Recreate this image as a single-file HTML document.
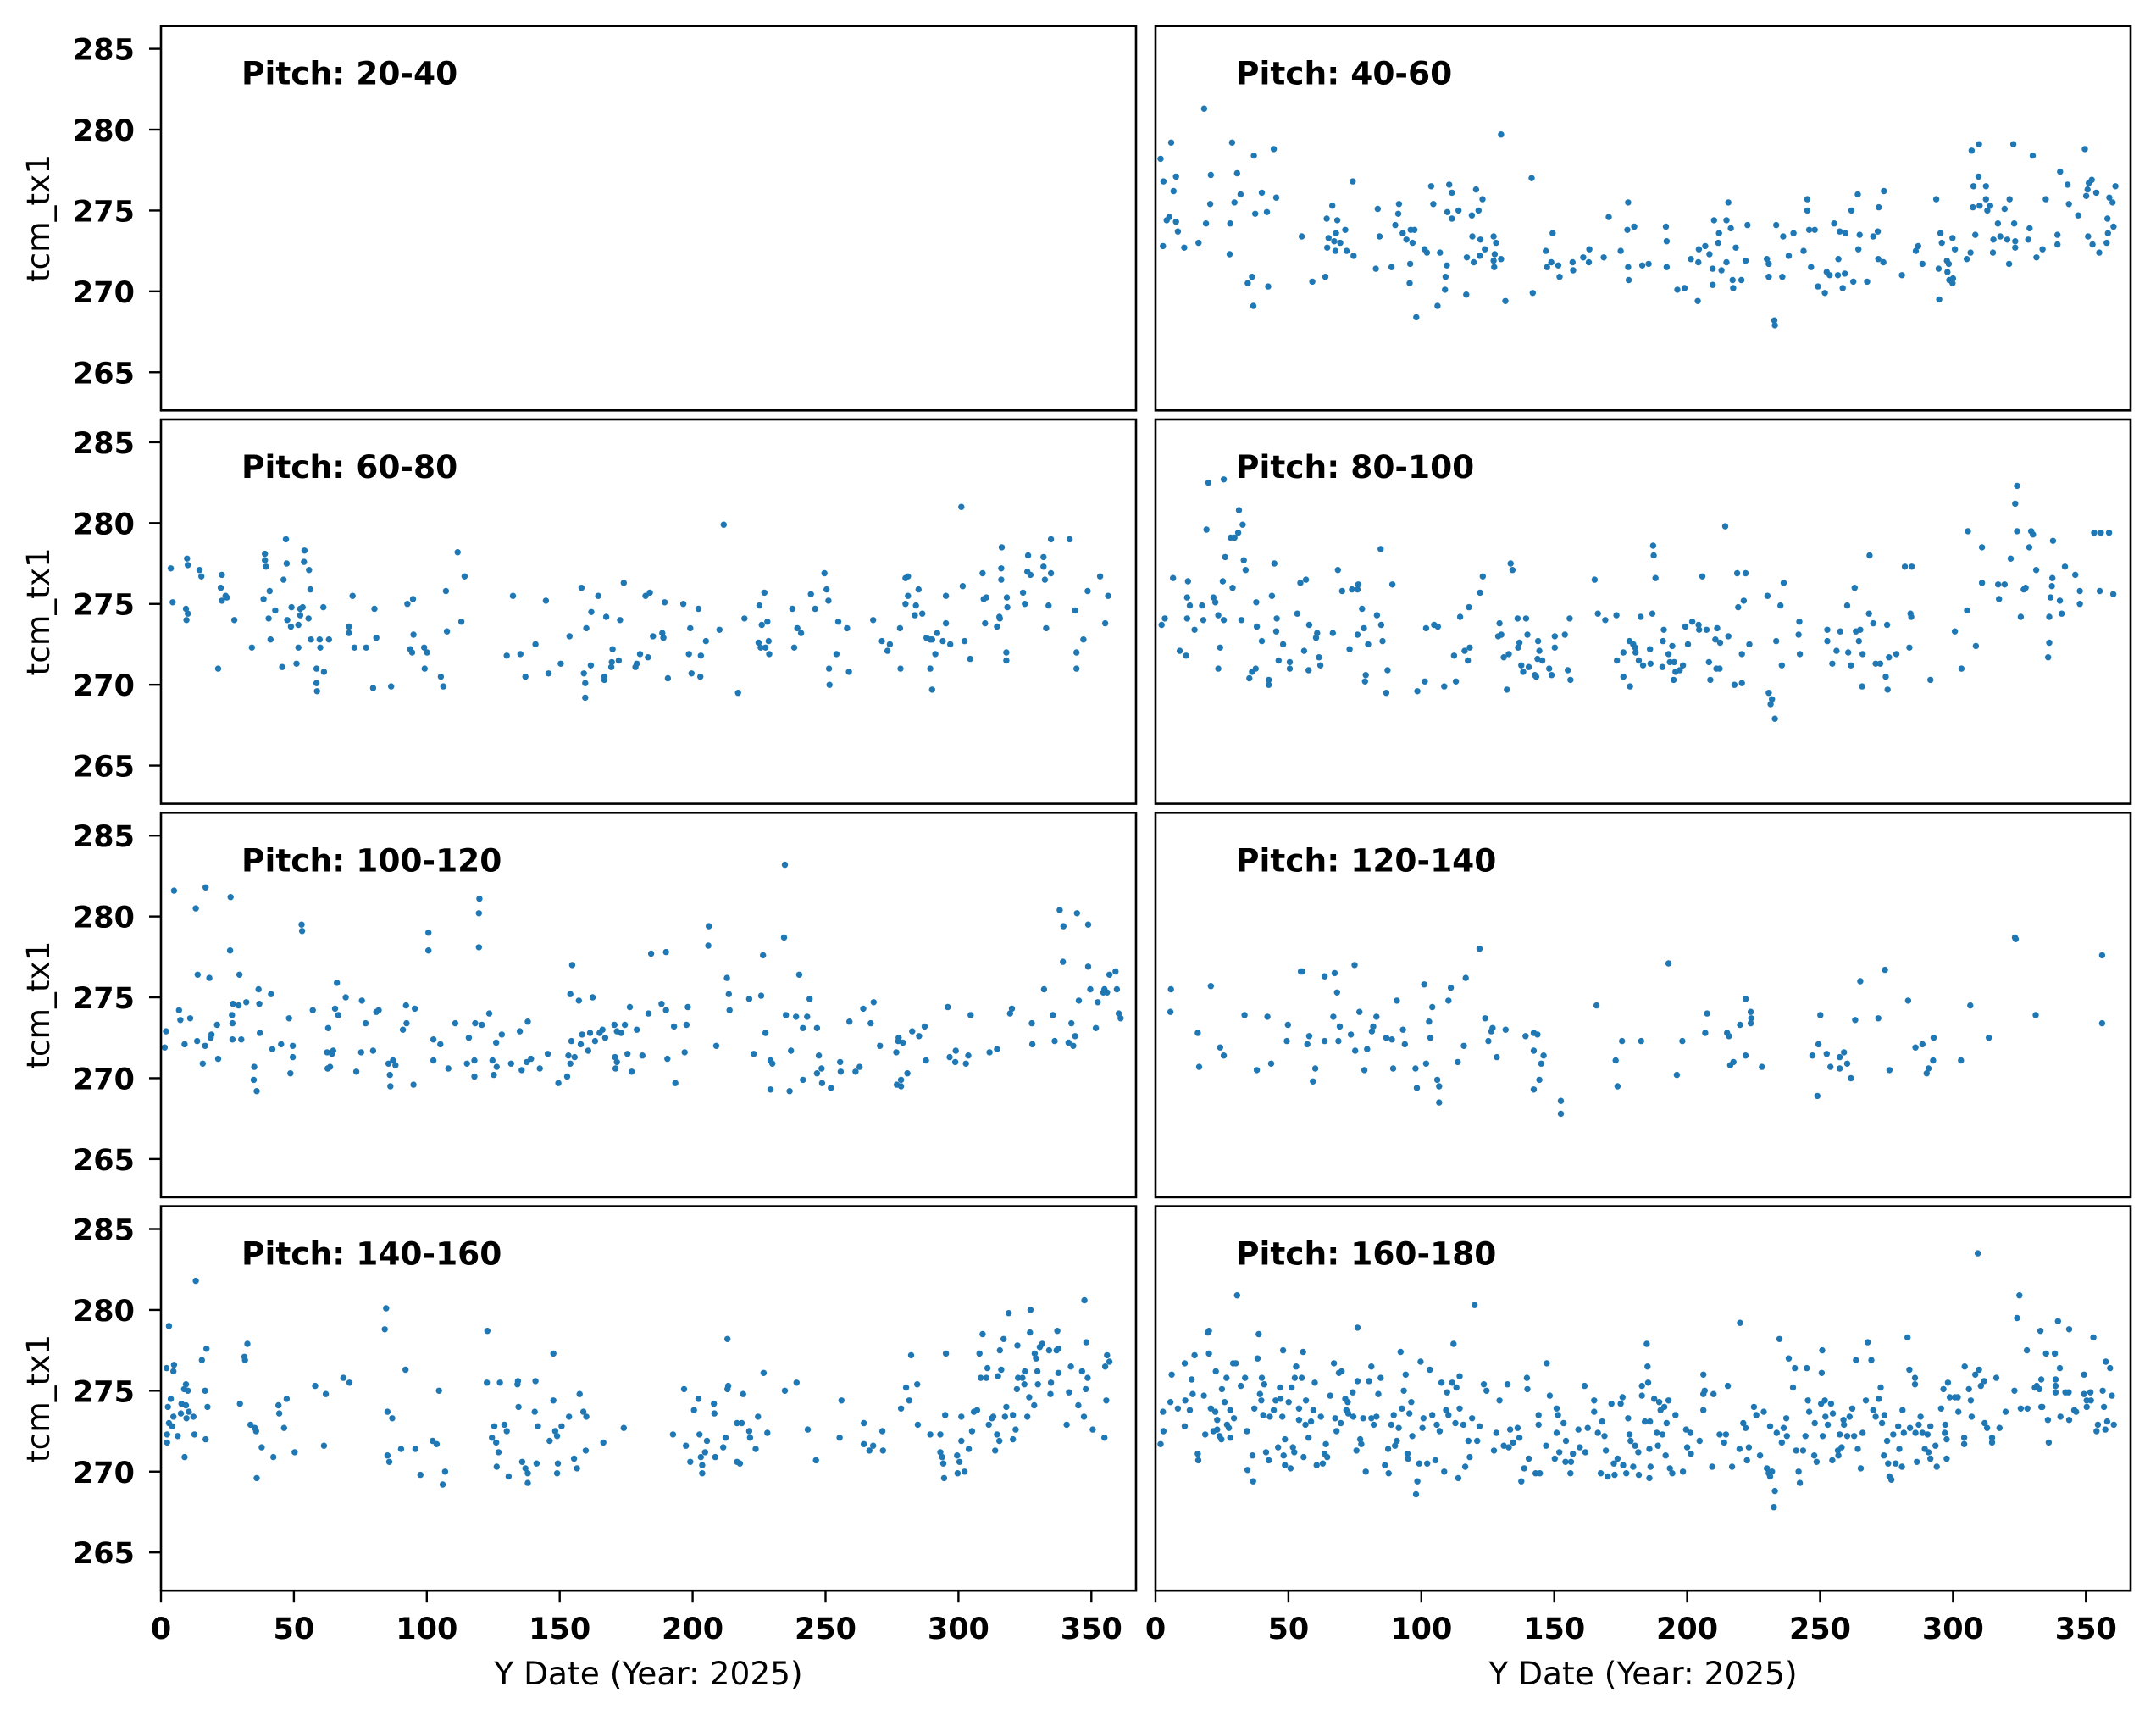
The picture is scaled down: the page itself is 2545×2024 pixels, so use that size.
<!DOCTYPE html>
<html><head><meta charset="utf-8"><title>tcm_tx1 by pitch</title>
<style>
html,body{margin:0;padding:0;background:#fff;}
svg{display:block;}
text{font-family:"DejaVu Sans","Liberation Sans",sans-serif;fill:#000;}
</style></head>
<body>
<svg id="fig" width="2545" height="2024" viewBox="0 0 2545 2024" xmlns="http://www.w3.org/2000/svg"></svg>
<script>
// ---- axis config ----
const xTicks = [0,50,100,150,200,250,300,350];
const yTicks = [265,270,275,280,285];
const xLim = [0,366.8];
const yLim = [262.64,286.41];
const panelTitles = ["Pitch: 20-40","Pitch: 40-60","Pitch: 60-80","Pitch: 80-100","Pitch: 100-120","Pitch: 120-140","Pitch: 140-160","Pitch: 160-180"];

// ---- data: [day, tcm_tx1] ----
const p20 = [];
const p40 = [[1.9,278.2],[3,276.8],[2.8,272.8],[5.9,279.2],[7.7,277.1],[6.8,276.2],[5.2,274.6],[4.2,274.4],[7.7,274.3],[8.4,273.7],[10.8,272.7],[16.2,273],[18.3,281.3],[20.8,277.2],[20.6,275.4],[19,274.2],[28.8,279.2],[30.7,277.3],[29.7,275.5],[32,276],[28.1,274.2],[27.9,272.3],[37,278.4],[37.5,274.8],[40,276.1],[41.9,274.9],[44.5,278.8],[45.4,275.8],[34.7,270.5],[36.3,270.9],[36.8,269.1],[42.4,270.3],[55,273.4],[59,270.6],[63.9,270.9],[64.4,274.5],[66.5,275.3],[68.4,274.4],[65.1,273.3],[67.2,273.1],[67.9,273.6],[69.5,273],[64.6,272.7],[67.7,272.5],[71.4,273.8],[71.9,272.5],[74.5,272.2],[74.2,276.8],[83.6,275.1],[84.3,273.4],[82.9,271.4],[88.8,271.5],[91.6,275.4],[91.3,274.8],[90.2,274.1],[93,273.6],[94.4,273.2],[96.7,273],[96,273.8],[97.4,273.8],[95.8,271.7],[95.6,270.5],[98.1,268.4],[101.2,272.6],[102.1,272.4],[103.7,276.5],[104.5,275.4],[107,272.4],[109.6,271.6],[109.1,270.9],[108.9,270.1],[106.1,269.1],[110.5,276.6],[111.5,276.1],[109.8,274.9],[111.5,274.5],[114,275],[120.6,276.3],[123,275.7],[121.5,275],[119,274.7],[119.2,273.4],[122.2,273.2],[123.9,272.6],[117.1,272.1],[119.7,271.8],[122,272.2],[116.9,269.8],[127.2,273.4],[128.1,273],[127.6,272.3],[127.2,271.9],[130,272],[127.4,271.5],[130,279.7],[131.6,269.4],[141.5,277],[141.9,269.9],[146.8,272.5],[147.3,271.5],[148.9,271.8],[149.4,273.6],[152,270.9],[151.5,271.6],[156.9,271.8],[157.1,271.3],[160.9,272.1],[163,271.8],[163.2,272.6],[168.6,272.1],[170.5,274.6],[175,272.5],[177.8,275.5],[177.5,273.8],[180.1,274],[177.8,271.5],[178,270.7],[183.1,271.6],[185.5,271.7],[192,274],[192.3,273.1],[192.3,271.5],[196.3,270.1],[199,270.2],[201.4,272],[204,269.4],[204.2,271.8],[204.4,272.6],[206.8,272.8],[208.4,272.3],[210.1,274.4],[212,273.6],[211.7,273],[209.6,271.4],[209.6,270.4],[212.9,271.3],[214.8,274.4],[215.5,275.5],[216.4,273.9],[214.8,271.8],[218.3,272.7],[217.3,270.2],[217.1,270.7],[220.4,270.7],[222,271.9],[222.7,274.1],[230,272],[230.7,271.7],[230.7,270.9],[232.8,268.2],[233,267.9],[233.5,274.1],[236.1,273.4],[235.8,270.9],[238.2,272.2],[240,273.6],[243.8,272.5],[245.2,275.7],[245.2,275],[245.9,273.8],[248,273.8],[246.6,271.5],[249.2,270.3],[251.8,269.9],[252.5,271.2],[253.6,271],[255.3,274.2],[256.9,272],[256.7,271],[257.4,273.7],[259.5,273.6],[259.3,271.1],[258.5,270.2],[261.8,275],[262.5,270.6],[264.2,276],[264.9,273.5],[264.4,272.6],[267.7,270.6],[270,273.4],[271.7,273.7],[272.1,275.2],[274,276.2],[271.9,272],[273.8,271.8],[280.8,271],[286,272.5],[286.9,272.8],[288.5,271.7],[293.7,275.7],[295.3,273.6],[295.8,273],[294.6,271.4],[294.8,269.5],[297.7,271.9],[298.4,271.7],[297.9,271.2],[298.6,270.7],[300,270.8],[299.8,270.5],[299.8,273.3],[300.7,272.6],[305.2,272],[306.6,272.4],[307,278.7],[309.8,279.1],[309.6,277.1],[307.7,276.5],[312.4,276.5],[307.5,275.2],[310,275.3],[312.4,275.7],[314,275.3],[312.9,275],[308.4,273.5],[315,272.4],[316.9,274.2],[317.8,273.4],[315.2,273.2],[319.4,275.1],[320.4,273.2],[321.1,271.7],[321.3,275.7],[322.7,279.1],[323,274.2],[323.4,273.1],[323.4,272.7],[328.8,273.9],[328.3,273.2],[330,278.4],[331.4,272.1],[333.7,272.6],[334.9,275.7],[339.3,273.5],[339.3,272.9],[340.3,277.4],[343.1,276.6],[343.6,275.4],[347.1,274.7],[349.6,278.8],[350.1,275.9],[350.6,276.3],[351.1,276.7],[352.2,276.9],[353.9,276.1],[350.8,273.4],[352.5,272.9],[355,272.4],[358.1,274.5],[358.3,273.6],[357.8,273],[358.8,275.8],[360,275.5],[360.4,274],[361.1,276.5]];
const p60 = [[3.7,277.2],[4.4,275.1],[9.8,277.8],[10.1,277.4],[9.4,274.7],[10.1,274.4],[9.6,274],[14.5,277.1],[15.2,276.7],[22.9,276.8],[22.5,276],[24.3,275.5],[24.8,275.4],[22.9,275.2],[27.6,274],[21.5,271],[34.2,272.3],[39.1,278.1],[39.1,277.7],[39.5,277.3],[47,279],[47.3,277.5],[54,278.3],[53.8,277.6],[55.7,277.1],[46.1,276.5],[40.9,275.8],[38.6,275.3],[56.2,275.9],[43,274.6],[49.1,274.8],[52.4,274.7],[53.3,274.8],[61.1,274.8],[40.5,274.1],[47.5,274],[52.4,274.3],[55.5,274.1],[48.9,273.6],[51.7,273.7],[41.2,272.8],[51.7,272.3],[56.4,272.8],[59.7,272.8],[63.2,272.8],[59.9,272.3],[45.6,271.1],[51,271.3],[58.5,271],[61.3,270.8],[58.5,270.1],[58.7,269.6],[72.1,275.5],[70.7,273.6],[70.7,273.2],[72.8,272.3],[77.2,272.3],[80.3,274.7],[81,272.9],[79.8,269.8],[86.6,269.9],[92.7,275],[94.8,275.3],[95,273.1],[93.8,272.2],[94.5,272],[99,272.3],[100.1,272],[99.2,271],[105.3,270.5],[106.2,269.9],[107.2,275.8],[107.6,273.3],[111.6,278.2],[114.2,276.7],[113,273.9],[130.1,271.8],[132.4,275.5],[135.2,271.9],[137.1,270.5],[140.9,272.5],[144.8,275.2],[145.8,270.7],[150.4,271.3],[153.7,273],[158.2,276],[160,273.5],[161.9,274.5],[161.7,271.2],[159.1,270.7],[159.6,270.1],[159.6,269.2],[164.5,275.5],[167.5,274.2],[166.8,270.5],[166.8,270.3],[169.9,272.2],[169.6,271.4],[169.4,271.1],[172.2,271.5],[172.7,274],[174.1,276.3],[178.5,271.1],[179,271.3],[180.2,271.9],[183.2,271.7],[182.3,275.5],[183.9,275.7],[185.1,273],[188.6,273.2],[189,272.9],[189.5,275.1],[190.7,270.4],[196.5,275],[198.6,271.9],[199.1,273.5],[199.6,270.7],[202.2,274.7],[203.1,271.8],[202.9,270.5],[205,272.7],[210.1,273.4],[211.7,279.9],[217.1,269.5],[219.5,274.1],[225.1,274.9],[227,275.7],[226,273.7],[228.1,273.9],[224.8,272.6],[225.6,272.3],[227.4,272.3],[228.6,272.7],[228.8,271.9],[237.5,274.7],[238.2,272.3],[239.4,273.5],[240.8,273.2],[244.5,275.6],[246.1,274.7],[249.6,276.9],[250.4,275.9],[251.1,275.2],[251.3,271],[251.5,270],[254.8,273.9],[254.1,271.9],[258.1,273.5],[258.8,270.8],[267.9,274],[271.2,272.7],[274.2,272.5],[273.3,272.1],[278.2,271],[278,273.5],[280.1,276.6],[281,276.7],[281,275.5],[280.1,275],[285,275.9],[284,274.9],[283.6,274.3],[286.4,274.4],[288,272.9],[289.4,272.8],[290.1,272.8],[292,273.2],[294.1,272.7],[296.9,272.5],[291.3,271.9],[289.4,271],[290.1,269.7],[295.3,275.5],[295.3,273.8],[301.1,281],[301.6,276.1],[302.3,272.7],[304.4,271.6],[309.1,276.9],[309.5,275.3],[310.5,275.4],[310,273.8],[314.5,273.6],[315.4,274.2],[315.6,274.1],[316.3,278.5],[316.1,277.2],[316.1,276.5],[318.2,275.4],[318.4,274.8],[318,272],[318,271.5],[324.3,275.7],[325,275],[326.2,278],[325.9,277],[327.1,276.8],[332,277.9],[332,277.3],[332.5,276.5],[334.8,279],[334.8,276.9],[333.9,274.9],[333,273.5],[341.8,279],[343.9,274.6],[347,272.8],[344.4,272],[344.4,271],[348.6,275.8],[353.3,276.7],[355.2,273.8],[356.3,275.5]];
const p80 = [[2.3,273.7],[3.5,274.1],[6.6,276.6],[9.1,272.1],[11.5,271.8],[11.9,274.1],[11.9,275.4],[12.9,274.9],[12.2,276.4],[14.7,273.4],[17.5,274.9],[18,274],[19.9,282.5],[19.2,279.6],[21.8,275.4],[22.5,275.1],[23.6,274.3],[23.6,271],[24.3,272.3],[25.7,282.7],[26.2,277.9],[25.3,276.4],[25.7,274],[29,276],[28.3,279.1],[29.7,279.1],[31.1,279.4],[31.4,280.8],[32.8,279.9],[33.2,277.7],[33.9,277.1],[32.3,274],[35.3,270.4],[36.3,270.8],[37.7,271],[37.9,275.1],[38.1,273.6],[40,272.7],[42.6,270.3],[42.6,270],[43.8,275.5],[44.7,277.5],[45.6,274.1],[45.4,273.3],[46.3,271.5],[48,272.5],[50.5,271.4],[50.5,271],[53.3,274.4],[54.5,276.3],[56.6,276.5],[55.9,272.1],[57.8,273.7],[57.6,270.9],[60.4,272.9],[60.8,273.2],[61.5,271.7],[62,271.2],[66.7,273.2],[68.6,277.1],[70.2,275.8],[73.9,275.9],[76,275.9],[76.3,276.2],[77.7,274.7],[76,273.1],[78.4,273.5],[73,272.2],[80,272.5],[79.1,270.6],[78.8,270.2],[83.3,274.3],[84.7,278.4],[84.9,273.7],[85.4,272.7],[87.3,270.9],[86.8,269.5],[89.1,276.2],[98.5,269.6],[101.3,270.2],[101.8,273.5],[104.8,273.7],[106.2,273.6],[108.6,269.9],[113,270.2],[112.3,271.8],[116.3,272.1],[118.2,272.3],[117.5,271.5],[114.6,274.2],[117.9,274.8],[122.1,275.7],[123.1,276.7],[128.9,273],[130.1,273.1],[129.4,273.8],[131,271.7],[132.9,271.9],[132.2,269.7],[133.6,277.5],[134.3,277.1],[136.2,274.1],[139.4,274.1],[136.9,272.6],[136.4,272.3],[139.9,273.1],[137.6,271.2],[138.3,270.8],[140.4,271.1],[143.2,270.5],[142.7,270.6],[143.9,272.7],[144.4,272.1],[143.7,271.6],[145.5,271.5],[148.1,271],[149,270.6],[150.2,273],[150.2,272.3],[154,273.1],[155.1,270.9],[156.1,270.3],[155.8,274.1],[165.2,276.5],[166.4,274.4],[169.2,274],[173.4,274.3],[173.6,271.5],[176,272],[176,270.5],[178.5,269.9],[178.3,272.7],[179.7,272.5],[180.4,272.3],[180.6,272],[181.8,271.5],[183.4,271.2],[182.5,274.2],[186,272.2],[186.2,271.3],[186.9,274.4],[187.2,278.6],[187.4,278],[188.1,276.6],[191.2,273.4],[190.9,272.7],[190.7,271.1],[193,271.9],[193.5,271.4],[194.4,272.4],[195.1,271.4],[195.6,270.8],[194.9,270.3],[197.2,270.9],[198.4,271.2],[199.3,273.6],[200.3,272.5],[201.9,273.9],[204.3,273.7],[204.5,273.4],[205.7,276.7],[207.3,273.4],[208.2,271.4],[208.7,270.3],[210.6,272.8],[211.3,273.5],[211,271],[212.2,271],[212.4,272.6],[214.3,279.8],[215.5,273],[217.8,270],[220.6,270.1],[220.6,271.9],[218.8,276.9],[222,276.9],[221.3,275.2],[219.2,274.8],[223.4,272.5],[230.2,275.5],[230.7,269.5],[231.9,269.1],[231.4,268.8],[233,267.9],[233.5,272.7],[235.1,274.9],[236.3,276.3],[235.6,271.2],[242.2,273.9],[241.9,273.1],[242.4,271.9],[252.7,273.4],[252.7,272.7],[254.6,271.3],[256.2,272.1],[257.6,273.3],[260.2,274.9],[260.6,272],[261.6,271.2],[263,276],[263.5,273.3],[265.1,273.4],[264.6,272.7],[266,271.9],[265.8,269.9],[268.6,278],[268.4,274.4],[270,273.8],[270.9,271.3],[272.6,271.3],[274.7,270.5],[275.4,269.7],[275.2,273.7],[275.9,271.7],[278.7,271.9],[281.9,277.3],[284.5,277.3],[284,274.4],[284.3,274.2],[283.6,272.3],[291.5,270.3],[300.7,273.3],[303.2,271],[305.3,274.6],[305.6,279.5],[308.6,272.4],[310.9,278.5],[310.9,276.3],[317,276.2],[317.3,275.3],[319.4,276.2],[321.7,277.8],[323.4,281.2],[324.1,282.3],[324.1,279.5],[325.5,274.2],[326.6,275.9],[327.3,276],[328.7,278.5],[329.4,279.5],[330.1,279.3],[331.3,277.1],[335.8,271.7],[336.2,272.6],[336.2,274.2],[336.7,275.4],[337.2,276.1],[337.4,276.6],[337.6,278.9],[340.2,275.2],[340.9,274.4],[342.1,277.3],[346,276.8],[347.7,275.8],[347.7,275],[353.1,279.4],[355.6,279.4],[358.7,279.4],[355.2,275.8],[360.3,275.6]];
const p100 = [[1.9,272.9],[1.4,271.9],[4.9,281.6],[6.8,274.2],[7.3,273.6],[11,273.7],[8.9,272.1],[13.1,280.5],[13.8,276.4],[13.6,272.3],[16.8,281.8],[18.2,276.2],[16.6,272],[19,272.7],[18.7,272.5],[15.7,270.9],[21.1,273.3],[21.5,271.2],[26.2,281.2],[26,277.9],[27.1,274.6],[26.7,273.9],[26.9,273.4],[26.9,272.4],[29.5,276.4],[29.2,274.5],[30.2,272.4],[32.1,274.7],[36.7,275.5],[37,274.6],[37.2,272.8],[35.1,270.7],[34.9,269.9],[36,269.2],[41.4,275.2],[41.9,271.8],[45.2,272.1],[48.2,273.7],[49.6,272],[49.6,271.3],[48.7,270.3],[52.9,279.5],[53.1,279.1],[57.1,274.2],[62.9,273.1],[62.5,271.6],[64.3,271.5],[64.8,271.7],[62.7,270.6],[63.6,270.7],[66.2,275.9],[65.5,274.3],[66.7,273.9],[69.5,275],[75.6,274.8],[77,273.4],[75.3,271.6],[73.5,270.4],[79.8,271.7],[81,274.1],[81.9,274.2],[85.6,270.9],[87.3,271.1],[88.2,270.8],[86.1,270.2],[86.3,269.5],[91,273],[92.2,274.5],[92.4,273.4],[95.5,274.3],[95,269.6],[100.6,279],[100.6,277.9],[102.5,272.4],[105.1,272.1],[102.5,271.1],[108.1,270.6],[110.7,273.4],[115.8,272.5],[115.1,270.9],[118.2,273.4],[120.7,273.3],[117.9,271.1],[117.9,270.1],[119.8,281.1],[119.6,280.2],[119.6,278.1],[123.5,274],[126.1,272.2],[124.7,271.1],[126.3,270.7],[125.2,270.2],[128.2,272.7],[131.7,270.9],[135,272.9],[135.7,270.5],[138,273.5],[137.6,271],[139.2,271.2],[142.5,270.6],[145.5,271.5],[149.5,269.7],[152.8,270.1],[153.3,271.4],[154,270.9],[155.6,271.3],[154.7,277],[154,275.2],[157.2,274.8],[154.4,272.3],[157.9,272.1],[158.4,272.7],[160.7,271.7],[161.4,272.8],[162.4,275],[163.3,272.3],[165,272.8],[166.1,273],[167.1,272.5],[170.6,273.3],[171.5,272.9],[173.1,272.8],[174.5,273.3],[170.8,271.3],[171.5,271],[171,270.6],[175.5,271.5],[177.1,270.4],[176.4,274.4],[179,273],[181.1,271.4],[183.4,274],[184.4,277.7],[188.3,274.6],[190,274.2],[190,277.8],[190.5,271.2],[193,273.2],[193.5,269.7],[197,271.6],[197.7,273.3],[198.2,274.4],[206.1,279.4],[205.9,278.2],[208.9,272],[212.9,276.2],[213.6,275.2],[213.9,274.2],[221.3,274.9],[223,271.5],[225.8,275.1],[226.5,277.6],[227.4,272.8],[229.3,271.1],[230,270.9],[229.3,269.3],[234.7,283.2],[234.4,278.7],[235.1,273.9],[237,271.7],[236.5,269.2],[238.9,273.8],[240.1,276.4],[241.5,273.1],[241.5,269.9],[243.1,273.8],[244,274.9],[246.8,273.1],[247.5,271.4],[248.5,270.6],[246.8,270.3],[248.7,269.7],[252,269.4],[255.5,271],[255.7,270.4],[259,273.5],[261.3,270.4],[262.8,270.7],[264.2,274.3],[267,273.4],[268.1,274.7],[270.5,272],[276.6,271.6],[277.5,272.5],[277.3,272.3],[279.1,272.2],[276.8,269.6],[278.4,269.9],[278.4,269.5],[280.8,270.3],[282.6,272.9],[285.2,272.6],[287.3,273.2],[287.8,271.1],[296,274.4],[296.7,271.3],[298.8,271],[299,271.7],[302.8,270.9],[303.7,271.4],[304.6,273.9],[311.7,271.6],[314.5,271.8],[319.4,274],[320.1,274.3],[327.6,273.4],[327.8,272.1],[332.2,275.5],[335.5,273.9],[336.2,272.3],[338.1,280.4],[339.5,279.4],[339.3,277.2],[341.4,272.2],[342.5,273.4],[343.9,272.6],[343.2,272],[344.6,280.2],[345.3,274.8],[348.8,279.5],[348.8,276.9],[349.6,275.5],[351.7,273.1],[352.4,274.7],[354.5,275.3],[354.9,275.5],[355.9,275.3],[356.8,276.4],[359.1,276.6],[359.6,275.5],[360.3,274],[361,273.7]];
const p120 = [[5.8,275.5],[5.6,274.1],[15.9,272.8],[16.4,270.7],[20.8,275.7],[24.3,271.9],[25.7,271.4],[33.5,273.9],[38.1,270.5],[42.1,273.8],[43.5,270.9],[49.8,273.3],[49.4,272.3],[54.7,276.6],[55.2,276.6],[57.8,272.6],[57.1,272.1],[60.1,270.6],[59.2,269.8],[63.6,276.3],[67.4,276.5],[68.3,275.3],[63.6,272.3],[66.9,273.8],[69.3,273.2],[68.8,272.3],[73.5,272.7],[74.9,277],[76.7,274.1],[75.1,271.7],[79.6,271.8],[78.6,270.5],[83.1,273.8],[81.9,273.2],[81.4,272.9],[86.8,272.5],[88.9,272.4],[90.8,274.8],[93.1,273],[93.8,272.1],[89.4,270.6],[97.8,270.6],[98.3,269.4],[101.1,275.8],[104.1,274.4],[102.9,273.5],[103.4,272.5],[101.8,270.9],[106,269.9],[106.7,269.5],[106.7,268.5],[110.2,274.8],[111.1,275.6],[113.7,271],[116,272],[116.7,276.2],[121.9,278],[124,273.7],[126.8,273.1],[126.3,272.9],[125.2,272.3],[128.4,271.3],[131.7,273],[139.2,272.6],[142.3,272.8],[143.7,272.7],[142.3,271.7],[146,271.4],[145.1,270.9],[144.4,269.9],[142.3,269.3],[152.5,268.6],[152.5,267.8],[165.9,274.5],[173.1,271.1],[173.8,269.5],[175.5,272.3],[182.7,272.3],[193,277.1],[196.1,270.2],[198.2,272.3],[206.8,272.8],[207.5,274],[215,272.8],[215.7,272.6],[217.4,271],[216.2,270.8],[222,274.9],[223.9,274.1],[224.1,273.7],[223.9,273.4],[219.9,273.3],[222,271.4],[228.1,270.7],[247.1,271.4],[249,268.9],[249.4,272.1],[250.1,273.9],[252.5,271.5],[253.9,270.7],[257.4,271.3],[257.4,270.6],[259,271.6],[260.2,270.9],[261.6,270],[263.2,273.6],[265.1,276],[271.9,273.7],[274.4,276.7],[276.1,270.5],[283.1,274.8],[285.9,271.9],[288.5,272.1],[290.8,270.6],[290.1,270.3],[292.5,271.1],[292.7,272.5],[303,271.1],[306.5,274.5],[313.5,272.5],[323.6,278.6],[323.3,278.7],[331.1,273.9],[356.1,277.6],[356.1,273.4]];
const p140 = [[3,279],[2.1,276.4],[4.9,276.6],[4.7,276.2],[3.7,274.5],[2.6,274],[8.7,275.1],[9.4,275.4],[10.1,275],[7.7,274.2],[9.4,274.1],[4.7,273.4],[7.5,273.6],[10.5,273.7],[9.6,273.3],[12.2,273.4],[3,273],[4.2,272.8],[2.3,272.3],[2.3,271.8],[6.3,272.2],[12.6,272.3],[8.9,270.9],[13.1,281.8],[15.4,276.9],[17.1,277.6],[16.6,275],[17.5,274],[16.8,272],[29.7,274.2],[31.4,277.1],[31.6,276.9],[32.5,277.9],[33.7,272.9],[35.3,272.7],[35.8,272.5],[37.9,271.5],[36,269.6],[42.3,270.9],[44.2,274.1],[44.5,273.6],[46.3,272.7],[47.3,274.5],[50.3,271.2],[58,275.3],[62,274.8],[61.3,271.6],[68.6,275.8],[70.9,275.5],[84.7,280.1],[84.2,278.8],[85.2,273.7],[87,273.3],[85.2,271],[85.9,270.6],[92,276.3],[90.3,271.4],[95.7,271.4],[97.6,269.8],[102.2,271.9],[103.7,271.7],[104.6,275],[106.9,270],[106,269.2],[122.8,278.7],[122.6,275.5],[127.5,275.5],[134.3,275.6],[134.1,275.4],[140.9,275.6],[134.5,274],[140.6,273.7],[125.4,272.8],[129.2,272.9],[130.1,272.5],[124.5,272.1],[126.1,271.8],[127,271.2],[126.3,270.3],[130.8,269.7],[135.9,270.6],[137.1,270.2],[138,269.9],[138,269.3],[141.3,270.5],[141.8,272.8],[147.6,277.3],[147.6,274.4],[150.7,272.8],[148.3,272.5],[149,272.2],[146.2,271.9],[149.3,270.5],[149,269.9],[153.5,273.4],[157.5,274.8],[158.9,273.7],[160,273.4],[159.8,271.3],[155.4,270.8],[156.5,270.2],[166.4,271.8],[174.1,272.7],[192.6,272.3],[196.8,275.1],[197.5,271.6],[200.5,273.8],[202.2,274.5],[202.6,272.3],[205.4,271.9],[204.7,271.2],[203.1,270.9],[199.1,270.6],[203.6,270.4],[203.6,269.9],[208,274.2],[208.2,273.6],[208.5,270.9],[211.5,271.5],[212.4,272.1],[213.1,278.2],[213.4,275.3],[213.1,275.1],[219,274.8],[216.7,273],[218.5,273],[221.3,272.5],[221.6,272.1],[217.8,270.5],[216.7,270.6],[224.6,273.4],[223.7,271.4],[228.1,272.4],[226.7,276.1],[234.7,275],[239.1,275.5],[243.3,272.6],[246.4,270.7],[256,274.4],[255.3,272.1],[264.4,273],[264.4,271.7],[266.5,271.3],[267.9,271.6],[271.4,272.5],[271.6,271.3],[278.4,273.9],[280.3,275.2],[281.5,274.4],[282.2,277.2],[284.5,275.4],[284.7,272.9],[289.4,272.3],[293.2,272.3],[293.2,271.2],[293.9,270.9],[294.3,270.5],[294.6,269.6],[295,273.5],[295.3,277.3],[299.7,269.9],[302.3,270],[299.5,271],[300.4,270.6],[301.1,271.9],[301.1,273.4],[303.9,271.4],[305.1,272.5],[305.8,273.7],[307,273.8],[307.9,277.3],[309.1,278.5],[308.4,275.8],[310.5,275.8],[310.9,276.4],[311.4,272.9],[312.6,273.3],[313.1,273.4],[313.8,271.3],[314.5,272.3],[315.4,271.9],[314.9,275.9],[315.6,277.5],[316.1,276.3],[317,278.2],[317.5,273.4],[318,274],[318.9,279.8],[320.5,273.5],[320.5,272],[321.5,272.6],[322,275.1],[322.2,277.8],[322.4,275.8],[324.1,275.8],[325,276.2],[324.8,275.4],[325.9,273.4],[326.6,274.6],[326.9,278.6],[327.1,280],[328.5,274.1],[328.7,277.3],[329.2,277],[329.7,276.2],[329.9,275.4],[330.6,277.7],[331.5,277.9],[334.1,277.5],[334.6,274.8],[334.8,275.5],[336.9,277.5],[337.6,277.6],[337.2,278.7],[337.6,276.1],[340.7,272.9],[341.6,274.9],[342.3,276.5],[345.1,274.1],[346.5,276.2],[347.2,273.4],[347.4,280.6],[348.1,278],[347.9,275.1],[348.6,275.8],[350.5,272.6],[354.9,272.1],[355.2,276.5],[355.6,274.4],[355.9,277.2],[356.8,276.8]];
const p160 = [[1.9,271.7],[2.8,273.7],[3,272.5],[5.6,274.3],[6.1,276],[8.4,273.9],[11,276.7],[11.2,274.4],[11,272.8],[12.9,273.8],[13.6,275.7],[14,274.8],[14.7,277.2],[15.9,271.1],[16.1,270.7],[18.2,274.7],[18.7,272.3],[19.7,278.6],[20.1,278.7],[20.1,277.3],[20.8,273.9],[21.8,272.5],[22.7,276.2],[22.5,273.7],[23.2,273.2],[23.2,272.6],[24.1,272.2],[24.8,272],[25,275.1],[26,274.3],[26.7,275.8],[26.9,272.9],[27.6,272.7],[28.1,273.8],[28.1,272.1],[29.2,276.7],[30.2,276.7],[29.5,273.3],[30.7,280.9],[32.1,275.3],[33.7,275.8],[34.4,272.5],[34.6,270.1],[36.7,269.4],[36.5,271],[37.2,273.9],[38.4,277],[38.8,278.5],[39.3,274.8],[40,275.8],[39.8,274.4],[40.5,273.5],[40.9,275.4],[41.6,271.2],[42.6,270.7],[43,273.4],[44.5,273.8],[45.2,274.4],[46.1,271.5],[46.8,275.2],[47,274.5],[47.7,273.4],[48.2,271],[48,277.5],[48.7,272],[48.7,270.4],[50.1,274.3],[50.8,270.2],[51.2,275.2],[51.7,271.5],[52.2,271.2],[52.4,275.8],[52.9,276.5],[54,273.9],[54,273.2],[55,275.8],[55.5,277.4],[55.7,270.9],[56.6,274.4],[56.4,272.9],[57.6,272.1],[58.5,273.1],[59.4,273.8],[59.9,275.5],[60.6,270.4],[62.2,273.4],[62.9,270.5],[63.6,271.1],[64.1,271.7],[64.6,270.9],[65.7,274.7],[67.1,276.7],[67.6,273.3],[68.1,272.5],[69,276.1],[70,276.2],[69.7,273],[71.4,274.5],[71.8,273.8],[72.3,274.3],[72.5,273.6],[74.2,274.9],[74.4,273.4],[75.6,271.3],[76,278.9],[76,275.6],[77,272],[77.4,271.7],[78.1,273.3],[79.1,270],[80.3,275.6],[81.2,276.5],[81.2,273.3],[82.1,272.9],[83.1,273.4],[83.8,274.8],[84.7,275.8],[86.3,270.4],[87.5,271.4],[87.7,269.9],[88.7,272.9],[89.6,273.5],[90.1,271.6],[90.8,271.9],[91.5,272.7],[92.2,277.4],[92.7,273.9],[93.4,275],[94.1,276],[94.8,271.1],[95,270.8],[95.5,273.6],[96.2,274.3],[96.6,272.2],[98,268.6],[98.5,269.4],[99.2,270.5],[99.7,276.8],[100.4,272.7],[100.8,273.3],[102.2,270.5],[103.2,276.3],[104.1,273.5],[105.3,270.7],[105.8,272.9],[106.9,272.5],[107.6,275.5],[108.6,270],[109.3,273.8],[109.7,274.9],[110.2,273.5],[111.6,275.5],[112.1,277.9],[112.8,273],[113.2,275.2],[113.9,269.6],[114.4,273.9],[114.4,275.9],[115.8,272.9],[116.5,270.3],[117.7,271.9],[118.2,270.9],[119.1,273.3],[120,280.3],[121,271.9],[121.9,272.8],[123.5,275.4],[124.5,275],[127.3,271.3],[128.2,272.4],[129.4,274.4],[131,271.6],[132.4,275.4],[132.9,271.5],[133.4,272.6],[134.5,271.8],[136.2,272.7],[136.9,272.1],[137.6,269.4],[138.7,270.2],[139.7,275.8],[139.9,275.1],[140.4,270.8],[143,269.9],[144.1,272.9],[144.1,273.5],[144.6,269.9],[146.9,271.6],[147.2,276.7],[148.3,274.7],[150.2,270.8],[150.9,273.9],[151.4,273.5],[151.9,271.2],[150.9,272.4],[153.5,273],[154.2,270.6],[154.4,271.9],[156.1,269.9],[156.3,270.6],[157,271.1],[159.1,272.6],[159.6,271.5],[161.4,275.3],[161.7,271.2],[162.6,272.7],[165,274.4],[165,273.7],[166.4,272.4],[167.5,269.9],[168,273.1],[168.9,272.2],[169.4,271.3],[170.1,269.7],[171.5,274.2],[172.4,270.5],[172.7,269.8],[173.8,270.8],[175,274.2],[175.7,274.6],[175.9,270.4],[177.1,269.9],[177.8,273.3],[178.3,272.3],[178.7,271.9],[179.7,270.3],[180.4,271.6],[181.6,271.2],[181.8,269.8],[183,275.3],[183,274.7],[184.1,273.1],[184.8,277.9],[185.1,276.5],[185.3,275.5],[186,273.1],[185.8,271.4],[186.2,270.3],[185.8,269.6],[187.6,274.5],[188.6,272.4],[189,271.6],[189.5,274.3],[190,273.8],[190.7,272.3],[191.4,274],[191.9,271],[192.3,273],[193,274.4],[193.5,270.2],[194.4,269.9],[195.6,273.5],[198.4,270],[199.6,272.6],[200,271.5],[201.2,272.4],[201.4,271.1],[204.7,271.9],[206.1,276],[206.1,274.8],[206.6,275],[206.1,273.8],[209.4,270.3],[209.9,274.8],[212.2,272.3],[213.9,271.8],[214.6,272.3],[215.3,275.3],[216.9,270.3],[219.7,271.4],[219.9,279.2],[221.1,273],[222,272.7],[222.5,270.7],[223.2,271.5],[225.1,274],[226,273.5],[227.4,271],[228.8,273.7],[230,270.2],[230.7,269.9],[231.2,269.7],[231.9,270],[233,268.8],[232.6,267.8],[231.2,272.8],[233.7,272.4],[234.7,278.2],[235.6,271.8],[236.3,272.7],[237.5,272.2],[237.3,273.3],[238.2,277],[240.5,276.4],[239.8,275.2],[241,271.3],[241.9,270],[242.4,269.3],[243.6,271.3],[244.5,272.2],[245,276.4],[245.4,274.4],[245.9,273.7],[247.8,271],[248,273],[248.7,270.6],[250.4,274.2],[250.6,276.1],[250.8,277.5],[251,272.2],[251.8,274.4],[252,273.4],[252.9,272.9],[254.1,274.2],[254.6,270.7],[254.8,273.6],[256.7,271.3],[256.9,271],[257.4,272.3],[258.1,271.5],[258.8,273.2],[259,272.9],[260.2,272.2],[261.1,273.4],[262.1,273.9],[262.8,272.2],[263.5,276.9],[264.2,271.4],[265.3,270.2],[266,272.4],[267.2,274.4],[267.9,278],[269.3,276.9],[270,273.8],[270.9,273.4],[272.1,274.5],[272.8,275.2],[273.3,273],[274,271],[274.2,273.5],[275.2,271.9],[275.6,270.5],[276.1,269.7],[276.8,269.5],[277.5,272.3],[278.4,270.5],[279.4,272.8],[279.8,271.4],[281,273.8],[280.8,270.3],[281.5,272.4],[282.9,278.3],[283.6,276.3],[283.8,272.7],[285.7,275.8],[285.7,275.4],[285.9,272.4],[286.4,270.6],[287.1,272.9],[287.8,273.4],[288.5,272.4],[289.4,271.4],[290.4,272.3],[290.8,271.2],[291.5,272.8],[291.5,270.8],[293.4,271.6],[293.9,270.3],[295.5,273.9],[296.4,275.1],[296.9,272.4],[297.1,272.9],[297.6,272],[297.6,270.8],[298.1,275.5],[298.8,274.6],[300.7,274.6],[301.8,274.6],[302,273.7],[304.2,272.1],[304.2,271.7],[304.4,276.5],[306,275.1],[306.7,274.4],[307,273.4],[308.4,276],[309.3,283.5],[309.8,276.3],[310.5,275.3],[311.7,275.6],[311.9,273],[312.8,272.7],[314.7,272.1],[314.7,271.8],[316.3,275.8],[317.5,272.7],[319.8,273.7],[323.1,275],[324.1,279.5],[325,280.9],[325.5,273.9],[327.8,277.5],[328,273.9],[330.8,275.2],[331.5,275.3],[332.5,275.1],[332.9,278.7],[333.2,275.7],[333.2,274],[333.6,274],[335,277.3],[335.7,273.2],[336,271.8],[338.3,277.3],[338.6,275.7],[338.6,275.3],[338.6,274.9],[339.5,279.3],[340.2,276.4],[340.4,273.4],[342.3,274.9],[343.5,274.9],[343.7,278.8],[343.7,273.2],[345.6,273.8],[346.3,273.7],[349.3,276],[349.3,274.8],[350.3,274.4],[350.3,274],[351.7,274.9],[351.9,274.4],[352.8,278.3],[354,272.5],[354.5,272.9],[356.3,275],[356.8,274],[357.3,272.6],[357.5,276.8],[358,273.1],[359.1,276.4],[359.8,274.7],[360.5,272.9]];
const panelData = [p20,p40,p60,p80,p100,p120,p140,p160];

// ---- layout ----
const NS = "http://www.w3.org/2000/svg";
const svg = document.getElementById('fig');
const colLeft = [190, 1364];
const panelW = 1151;
const rowTop = [30.7, 495, 959.3, 1423.6];
const panelH = 453.6;

function mk(tag, attrs, parent){
  const e = document.createElementNS(NS, tag);
  for (const k in attrs) e.setAttribute(k, attrs[k]);
  (parent||svg).appendChild(e);
  return e;
}
function xScale(left, v){ return left + (v - xLim[0]) / (xLim[1] - xLim[0]) * panelW; }
function yScale(top, v){ return top + (yLim[1] - v) / (yLim[1] - yLim[0]) * panelH; }

for (let i = 0; i < 8; i++) {
  const row = Math.floor(i / 2), col = i % 2;
  const L = colLeft[col], T = rowTop[row];
  const g = mk('g', {});
  
  

  const pts = mk('g', {fill:'#1f77b4'}, g);
  
  
  panelData[i].forEach(p => {
    const c = mk('circle', {cx: xScale(L, p[0]).toFixed(1), cy: yScale(T, p[1]).toFixed(1), r: 3.7}, pts);
    
    
  });

  const frame = mk('rect', {x:L, y:T, width:panelW, height:panelH, fill:'none', stroke:'#000', 'stroke-width':2.6}, g);
  
  

  const title = mk('text', {x:L+95, y:T+69, 'font-size':37.5, 'font-weight':'bold'}, g);
  title.textContent = panelTitles[i];
  
  

  if (col === 0) {
    yTicks.forEach(v => {
      const y = yScale(T, v);
      const tk = mk('line', {x1:L-14, x2:L, y1:y, y2:y, stroke:'#000', 'stroke-width':2.4}, g);
      
      
      const lb = mk('text', {x:L-31, y:y+13, 'font-size':35, 'font-weight':'bold', 'text-anchor':'end'}, g);
      lb.textContent = String(v);
      
      
    });
    const yl = mk('text', {x:0, y:0, 'font-size':37.5, 'text-anchor':'middle', transform:'translate(58,' + (T+panelH/2) + ') rotate(-90)'}, g);
    yl.textContent = 'tcm_tx1';
    
    
  }
  if (row === 3) {
    const B = T + panelH;
    xTicks.forEach(v => {
      const x = xScale(L, v);
      const tk = mk('line', {x1:x, x2:x, y1:B, y2:B+14, stroke:'#000', 'stroke-width':2.4}, g);
      
      
      const lb = mk('text', {x:x, y:B+57, 'font-size':35, 'font-weight':'bold', 'text-anchor':'middle'}, g);
      lb.textContent = String(v);
      
      
    });
    const xl = mk('text', {x:L+panelW/2, y:1988, 'font-size':37.5, 'text-anchor':'middle'}, g);
    xl.textContent = 'Y Date (Year: 2025)';
    
    
  }
}
</script>
</body></html>
